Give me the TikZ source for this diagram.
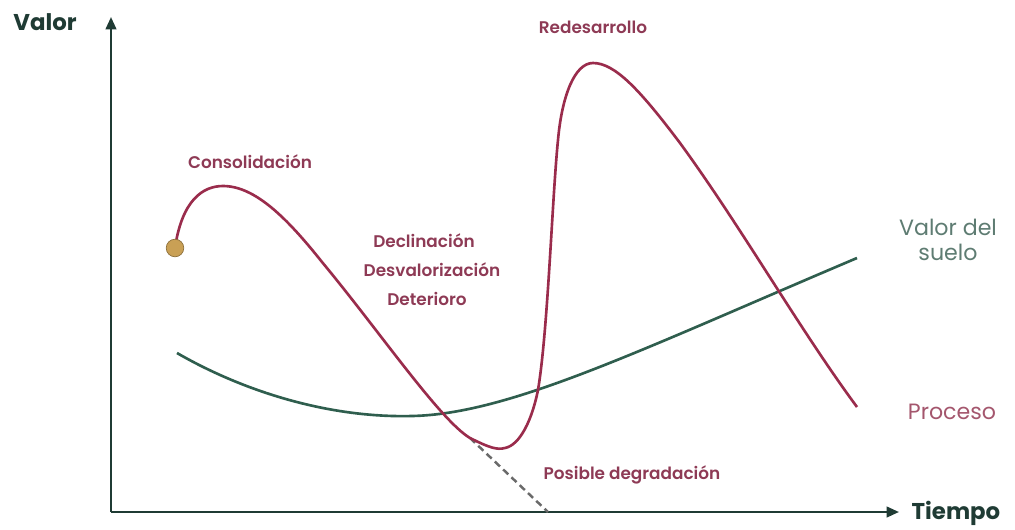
\documentclass[tikz,border=0pt]{standalone}
\usepackage{fontspec}
\setmainfont{Poppins}
\newfontfamily\semibold{Poppins SemiBold}
\usetikzlibrary{arrows.meta}
\definecolor{axis}{HTML}{1F3B34}
\definecolor{proc}{HTML}{9A2C4C}
\definecolor{land}{HTML}{2F5E4E}
\definecolor{landtxt}{HTML}{5E7C72}
\definecolor{proctxt}{HTML}{A4566D}
\definecolor{phase}{HTML}{8E3A55}
\definecolor{dot}{HTML}{C9A055}
\definecolor{dashgray}{HTML}{6A6A6A}
\tikzset{
  axisline/.style={draw=axis, line width=1.3pt, -{Triangle[length=7pt,width=6pt]}},
  axislabel/.style={font=\fontsize{13}{15}\selectfont\bfseries, text=axis},
  phaselabel/.style={font=\fontsize{9.6}{11}\selectfont\semibold, text=phase},
  curvelabel/.style={font=\fontsize{12.6}{14.5}\selectfont, align=center},
}
\begin{document}
\begin{tikzpicture}[x=0.02cm,y=-0.02cm]
\useasboundingbox[fill=white] (0,0) rectangle (1015,529);
% axes
\coordinate (O) at (111,512);
\coordinate (ytip) at (111,17);
\coordinate (xtip) at (899,512);
\draw[axisline] (O) -- (ytip);
\draw[axisline] (O) -- (xtip);
\node[axislabel] (valor) at (45,22) {Valor};
\node[axislabel] (tiempo) at (956,513) {Tiempo};
% land value curve
\draw[land, line width=1.5pt] (177,353) .. controls (250,395) and (335,418) .. (412,416)
  .. controls (510,414) and (640,350) .. (857,258);
% possible degradation
\coordinate (dstart) at (470,438);
\coordinate (dend) at (548,512);
\draw[dashgray, line width=1.4pt, dash pattern=on 4pt off 2.5pt] (dstart) -- (dend);
% process curve
\draw[proc, line width=1.5pt] (175,248) .. controls (182,200) and (203,186) .. (223,186)
  .. controls (255,186) and (287,218) .. (322,262)
  .. controls (380,332) and (440,420) .. (470,438)
  .. controls (490,448) and (497,450) .. (505,448)
  .. controls (520,445) and (532,420) .. (538,390)
  .. controls (548,330) and (552,200) .. (558,140)
  .. controls (562,95) and (575,63) .. (593,63)
  .. controls (615,63) and (640,90) .. (680,143)
  .. controls (740,225) and (800,330) .. (857,407);
\node[circle, fill=dot, draw=dot!70!black, line width=0.4pt, minimum size=10pt, inner sep=0pt] (start) at (175,248) {};
% labels
\node[phaselabel] (redes) at (593,27) {Redesarrollo};
\node[phaselabel] (conso) at (250,162) {Consolidación};
\node[phaselabel] (decl) at (424,241) {Declinación};
\node[phaselabel] (desv) at (432,270) {Desvalorización};
\node[phaselabel] (deter) at (427,299) {Deterioro};
\node[phaselabel] (degr) at (632,475) {Posible degradación};
\node[curvelabel, text=landtxt] (suelo) at (948,240) {Valor del\\suelo};
\node[curvelabel, text=proctxt] (proceso) at (952,412) {Proceso};
\end{tikzpicture}
\end{document}
